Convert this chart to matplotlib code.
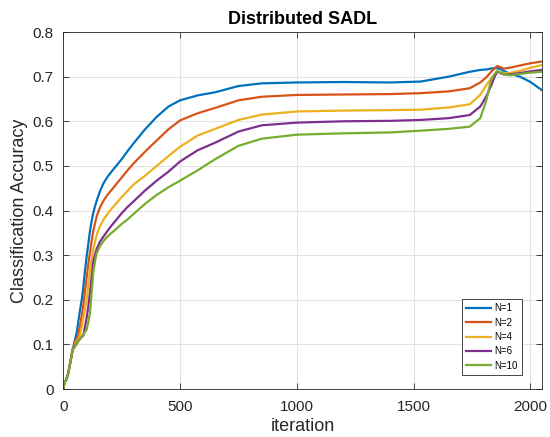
import matplotlib
matplotlib.use("Agg")
import matplotlib.pyplot as plt
from matplotlib.ticker import FuncFormatter

# DATA

iterations = [0, 5, 12, 21, 30, 40,
              50, 57, 64, 71, 79, 86, 93, 100, 107, 114,
              121, 128, 136, 143, 157, 171, 186, 200, 225, 250,
              275, 300, 350, 400, 450, 500, 575, 650, 750, 850,
              1000, 1200, 1400, 1530, 1650, 1740, 1785, 1810, 1830, 1845,
              1858, 1872, 1885, 1910, 1955, 2000, 2048]

start = [0.0, 0.015, 0.02, 0.035, 0.06, 0.088]

acc_n1 = start + [
    0.11, 0.125, 0.15, 0.175, 0.20, 0.23, 0.265, 0.297, 0.325, 0.353,
    0.376, 0.394, 0.41, 0.422, 0.443, 0.46, 0.473, 0.483, 0.499, 0.515,
    0.533, 0.55, 0.582, 0.61, 0.633, 0.647, 0.658, 0.665, 0.679, 0.685,
    0.687, 0.688, 0.687, 0.689, 0.70, 0.711, 0.715, 0.716, 0.718, 0.719,
    0.719, 0.717, 0.713, 0.707, 0.70, 0.688, 0.67]

acc_n2 = start + [
    0.105, 0.113, 0.12, 0.14, 0.165, 0.19, 0.22, 0.25, 0.28, 0.305,
    0.33, 0.353, 0.372, 0.387, 0.407, 0.421, 0.433, 0.442, 0.458, 0.474,
    0.49, 0.505, 0.532, 0.557, 0.582, 0.602, 0.618, 0.63, 0.647, 0.655,
    0.659, 0.66, 0.661, 0.663, 0.667, 0.674, 0.687, 0.698, 0.71, 0.718,
    0.724, 0.721, 0.718, 0.72, 0.725, 0.73, 0.734]

acc_n4 = start + [
    0.10, 0.107, 0.113, 0.12, 0.14, 0.16, 0.18, 0.20, 0.235, 0.265,
    0.29, 0.312, 0.33, 0.345, 0.365, 0.379, 0.39, 0.40, 0.415, 0.43,
    0.444, 0.458, 0.478, 0.50, 0.522, 0.543, 0.568, 0.583, 0.603, 0.615,
    0.622, 0.624, 0.625, 0.626, 0.631, 0.638, 0.659, 0.68, 0.695, 0.705,
    0.711, 0.71, 0.708, 0.708, 0.713, 0.72, 0.726]

acc_n6 = start + [
    0.097, 0.102, 0.107, 0.112, 0.117, 0.12, 0.14, 0.16, 0.185, 0.215,
    0.25, 0.285, 0.302, 0.314, 0.33, 0.341, 0.352, 0.362, 0.378, 0.394,
    0.408, 0.42, 0.445, 0.467, 0.487, 0.51, 0.535, 0.552, 0.577, 0.591,
    0.597, 0.60, 0.601, 0.603, 0.607, 0.614, 0.633, 0.655, 0.678, 0.698,
    0.712, 0.708, 0.705, 0.705, 0.708, 0.712, 0.715]

acc_n10 = start + [
    0.095, 0.10, 0.107, 0.113, 0.118, 0.123, 0.128, 0.133, 0.15, 0.17,
    0.215, 0.26, 0.287, 0.305, 0.32, 0.331, 0.34, 0.347, 0.358, 0.37,
    0.38, 0.392, 0.415, 0.435, 0.452, 0.467, 0.49, 0.515, 0.545, 0.561,
    0.57, 0.573, 0.575, 0.579, 0.583, 0.588, 0.607, 0.645, 0.69, 0.705,
    0.713, 0.709, 0.706, 0.703, 0.706, 0.709, 0.711]

labels = ["N=1", "N=2", "N=4", "N=6", "N=10"]
colors = ["#0072BD", "#D95319", "#EDB120", "#7E2F8E", "#77AC30"]
curves = [acc_n1, acc_n2, acc_n4, acc_n6, acc_n10]

plt.rcParams.update({
    "font.family": ["Liberation Sans", "DejaVu Sans"],
    "axes.edgecolor": "#262626",
    "xtick.color": "#262626",
    "ytick.color": "#262626",
    "xtick.direction": "in",
    "ytick.direction": "in",
})

# PLOT

fig = plt.figure(figsize=(5.5, 4.37), dpi=100)
ax = fig.add_axes([0.1151, 0.1098, 0.8698, 0.8169])

for vals, color, label in zip(curves, colors, labels):
    ax.plot(iterations, vals, color=color, linewidth=1.6, label=label)

ax.set_xlim(0, 2048)
ax.set_ylim(0, 0.8)
ax.set_xticks([0, 500, 1000, 1500, 2000])
ax.set_yticks([0, 0.1, 0.2, 0.3, 0.4, 0.5, 0.6, 0.7, 0.8])
ax.yaxis.set_major_formatter(FuncFormatter(lambda v, _: f"{v:g}"))
ax.tick_params(labelsize=11, top=True, right=True, length=4, width=0.6)
ax.tick_params(axis="x", pad=8)
ax.tick_params(axis="y", pad=7)
for sp in ax.spines.values():
    sp.set_linewidth(0.6)
ax.grid(True, color="#e3e3e3", linewidth=0.8)
ax.set_axisbelow(True)

ax.set_title("Distributed SADL", fontsize=13, fontweight="bold", pad=6)
# reference clips this label at the bottom edge; keep it just inside
ax.set_xlabel("iteration", fontsize=13, color="#262626", labelpad=3)
ax.set_ylabel("Classification Accuracy", fontsize=13, color="#262626", labelpad=3)

leg = ax.legend(loc="lower right", bbox_to_anchor=(0.958, 0.04), fontsize=7,
                frameon=True, fancybox=False, framealpha=1, edgecolor="#262626",
                handlelength=2.6, handletextpad=0.3, labelspacing=0.45,
                borderpad=0.4, borderaxespad=0)
leg.get_frame().set_linewidth(0.6)

fig.savefig("out.png", dpi=100)
